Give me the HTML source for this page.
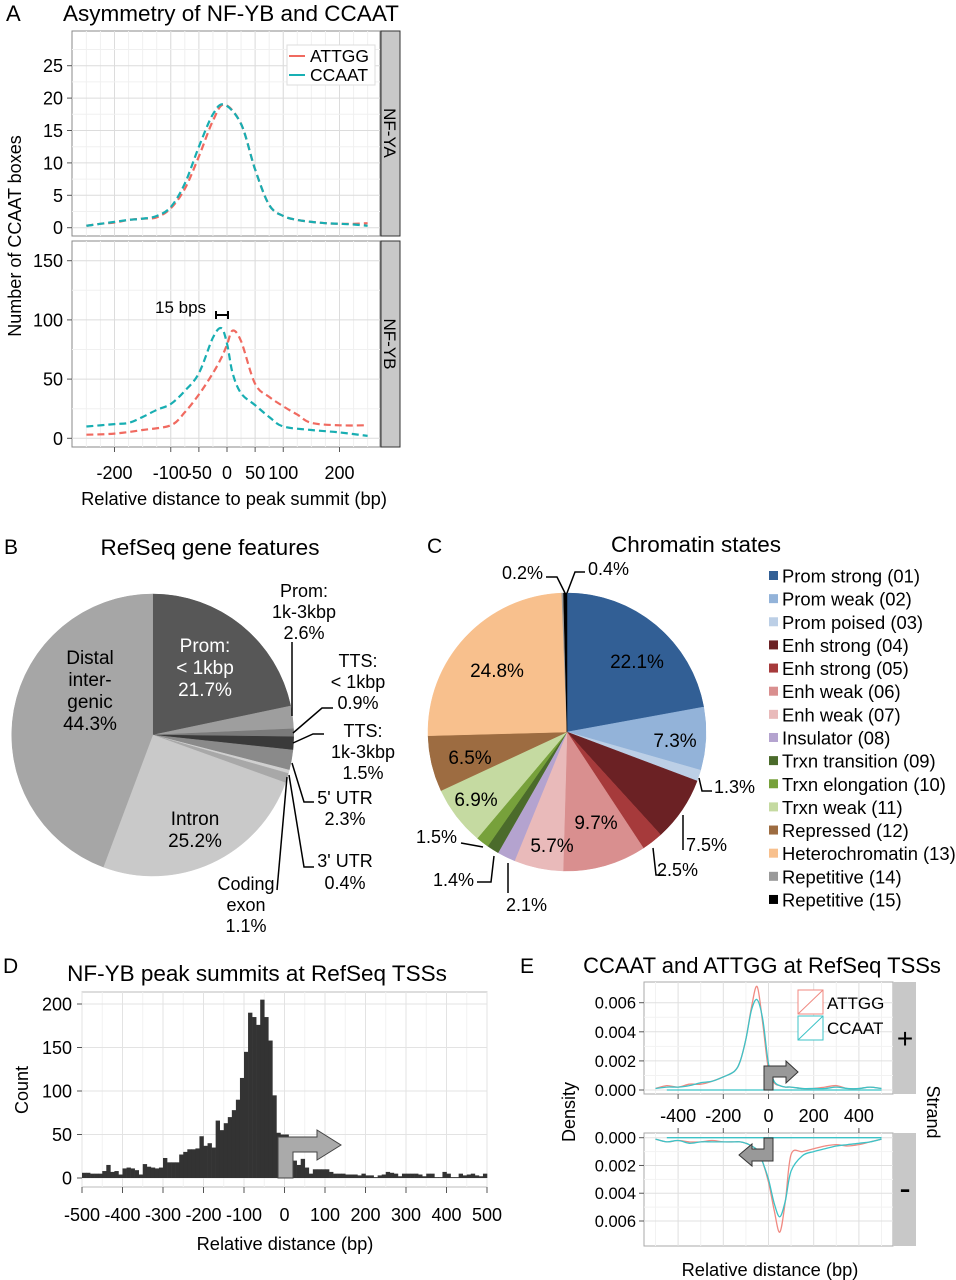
<!DOCTYPE html>
<html><head><meta charset="utf-8">
<style>
html,body{margin:0;padding:0;background:#fff;}
svg{display:block;font-family:"Liberation Sans",Arial,sans-serif;}
</style></head>
<body>
<svg id="fig" width="956" height="1280" viewBox="0 0 956 1280" xmlns="http://www.w3.org/2000/svg">
<rect x="0" y="0" width="956" height="1280" fill="#fff"/>
<g>
<text x="6" y="21" font-size="22">A</text>
<text x="63" y="21" font-size="22.5">Asymmetry of NF-YB and CCAAT</text>
<text transform="translate(21,236) rotate(-90)" text-anchor="middle" font-size="18">Number of CCAAT boxes</text>
<text x="234" y="505" text-anchor="middle" font-size="18.3">Relative distance to peak summit (bp)</text>
<g id="aTop"></g>
<g id="aBot"></g>
<rect x="381" y="31" width="19" height="205" fill="#c8c8c8" stroke="#333" stroke-width="1"/>
<text transform="translate(384,133) rotate(90)" text-anchor="middle" font-size="17">NF-YA</text>
<rect x="381" y="241" width="19" height="206" fill="#c8c8c8" stroke="#333" stroke-width="1"/>
<text transform="translate(384,344) rotate(90)" text-anchor="middle" font-size="17">NF-YB</text>
<rect x="287" y="45" width="88" height="40" fill="#fff" stroke="#ddd"/>
<line x1="289" y1="56" x2="305" y2="56" stroke="#f06a60" stroke-width="2"/>
<text x="310" y="62" font-size="17.5">ATTGG</text>
<line x1="289" y1="75" x2="305" y2="75" stroke="#18b0b4" stroke-width="2"/>
<text x="310" y="81" font-size="17.5">CCAAT</text>
<text x="155" y="313" font-size="17">15 bps</text>
<path d="M216,315 H228 M216,311 V319 M228,311 V319" stroke="#000" stroke-width="2" fill="none"/>
</g>
<g id="pB">
<text x="4" y="554" font-size="21">B</text>
<text x="210" y="555" text-anchor="middle" font-size="22.5">RefSeq gene features</text>
</g>
<g id="pC">
<text x="427" y="553" font-size="21">C</text>
<text x="696" y="552" text-anchor="middle" font-size="22.5">Chromatin states</text>
</g>
<g id="pD">
<text x="3" y="973" font-size="21">D</text>
<text x="257" y="981" text-anchor="middle" font-size="22.5">NF-YB peak summits at RefSeq TSSs</text>
<text transform="translate(28,1090) rotate(-90)" text-anchor="middle" font-size="18">Count</text>
<text x="285" y="1250" text-anchor="middle" font-size="18.3">Relative distance (bp)</text>
</g>
<g id="pE">
<text x="520" y="973" font-size="21">E</text>
<text x="762" y="973" text-anchor="middle" font-size="22">CCAAT and ATTGG at RefSeq TSSs</text>
<text transform="translate(575,1112) rotate(-90)" text-anchor="middle" font-size="18">Density</text>
<text transform="translate(927,1112) rotate(90)" text-anchor="middle" font-size="18">Strand</text>
<text x="770" y="1276" text-anchor="middle" font-size="18.3">Relative distance (bp)</text>
</g>
</svg>
<script>
var NS="http://www.w3.org/2000/svg";
// ---------- Panel A data ----------
var aTopX=[-250,-225,-200,-175,-150,-125,-100,-75,-50,-25,-5,25,50,75,100,125,150,175,200,225,250];
var aTopAttgg=[0.3,0.6,0.8,1.2,1.4,1.6,3,6,11,16.5,19,16,9,3.5,1.8,1.2,0.9,0.7,0.6,0.6,0.7];
var aTopCcaat=[0.3,0.6,0.9,1.2,1.4,1.8,3.2,6.8,12.5,17.5,19,16,9,3.5,1.8,1.2,0.9,0.7,0.6,0.5,0.3];
var aBotAttggX=[-250,-200,-150,-100,-75,-50,-25,-10,0,10,25,50,75,100,125,150,200,250];
var aBotAttgg=[3,4,7,11,22,37,55,68,79,91,82,46,35,27,20,13,11,11];
var aBotCcaatX=[-250,-200,-175,-150,-125,-100,-75,-50,-25,-10,0,10,25,50,75,100,150,200,250];
var aBotCcaat=[10,12,13,18,24,29,40,55,85,93,80,55,38,28,18,10,7,5,2];
var aXTicks=[-200,-100,-50,0,50,100,200];
var aXTickLabels=["-200","-100","-50","0","50","100","200"];
var aTopYTicks=[0,5,10,15,20,25];
var aBotYTicks=[0,50,100,150];
// ---------- Panel B data ----------
var bLabels=["Prom < 1kbp","Prom 1k-3kbp","TTS < 1kbp","TTS 1k-3kbp","5' UTR","3' UTR","Coding exon","Intron","Distal intergenic"];
var bValues=[21.7,2.6,0.9,1.5,2.3,0.4,1.1,25.2,44.3];
var bColors=["#575757","#9e9e9e","#7a7a7a","#3a3a3a","#8a8a8a","#d0d0d0","#a8a8a8","#c9c9c9","#a6a6a6"];
// ---------- Panel C data ----------
var cLabels=["Prom strong (01)","Prom weak (02)","Prom poised (03)","Enh strong (04)","Enh strong (05)","Enh weak (06)","Enh weak (07)","Insulator (08)","Trxn transition (09)","Trxn elongation (10)","Trxn weak (11)","Repressed (12)","Heterochromatin (13)","Repetitive (14)","Repetitive (15)"];
var cValues=[22.1,7.3,1.3,7.5,2.5,9.7,5.7,2.1,1.4,1.5,6.9,6.5,24.8,0.2,0.4];
var cColors=["#325f95","#93b3d9","#bccfe6","#6b2124","#a63a3b","#d98f8f","#e9baba","#b4a3cf","#4b6b2b","#77a13b","#c5daa1","#9d6c41","#f8c08d","#9a9a9a","#000000"];
// ---------- Panel D data ----------
var dBinStart=-500, dBinWidth=10;
var dCounts=[6,6,5,5,5,8,15,7,8,4,
11,12,11,9,4,16,13,12,11,12,
23,18,18,18,27,30,33,33,34,48,
37,40,35,66,55,63,70,78,90,115,
145,190,185,176,205,185,158,95,52,50,
50,30,20,15,22,12,5,10,10,10,
10,7,5,5,5,4,4,4,3,5,
3,3,1,3,4,7,6,5,2,5,
5,5,5,4,2,5,5,1,1,7,
5,1,1,5,3,4,5,3,2,5];
var dXTicks=[-500,-400,-300,-200,-100,0,100,200,300,400,500];
var dYTicks=[0,50,100,150,200];
// ---------- Panel E data ----------
var eX=[-500,-450,-400,-350,-300,-250,-200,-150,-125,-100,-75,-50,-25,0,25,50,75,100,150,200,250,300,350,400,450,500];
var ePlusAttgg=[0.0001,0.0003,0.0002,0.0004,0.0004,0.0006,0.0009,0.0013,0.002,0.0035,0.0057,0.0071,0.0045,0.0014,0.0005,0.0003,0.0002,0.0002,0.0001,0.0001,0.0002,0.0003,0.0001,0.0001,0.0002,0.0001];
var ePlusCcaat=[0.0001,0.0002,0.0002,0.0003,0.0005,0.0006,0.0009,0.0013,0.002,0.0035,0.0055,0.0062,0.0048,0.0018,0.0006,0.0003,0.0002,0.0002,0.0001,0.0001,0.0001,0.0002,0.0001,0.0001,0.0002,0.0001];
var eMinusAttgg=[0.0001,0.0003,0.0002,0.0003,0.0003,0.0002,0.0003,0.0003,0.0003,0.0004,0.0006,0.0009,0.0018,0.0032,0.0052,0.0068,0.0045,0.0012,0.0010,0.0008,0.0006,0.0005,0.0006,0.0005,0.0003,0.0001];
var eMinusCcaat=[0.0001,0.0003,0.0002,0.0004,0.0003,0.0003,0.0003,0.0003,0.0003,0.0004,0.0006,0.0009,0.0018,0.0030,0.0047,0.0057,0.0045,0.0024,0.0013,0.0010,0.0008,0.0006,0.0005,0.0004,0.0003,0.0001];
var eXTicks=[-400,-200,0,200,400];
var eYTicks=[0,0.002,0.004,0.006];

var svg=document.getElementById('fig');
function mk(tag,attrs,parent){var e=document.createElementNS(NS,tag);for(var k in attrs)e.setAttribute(k,attrs[k]);(parent||svg).appendChild(e);return e;}
function smooth(pts){
  var d="M"+pts[0][0].toFixed(1)+","+pts[0][1].toFixed(1);
  for(var i=0;i<pts.length-1;i++){
    var p0=pts[i-1]||pts[i],p1=pts[i],p2=pts[i+1],p3=pts[i+2]||p2;
    var c1x=p1[0]+(p2[0]-p0[0])/6,c1y=p1[1]+(p2[1]-p0[1])/6,c2x=p2[0]-(p3[0]-p1[0])/6,c2y=p2[1]-(p3[1]-p1[1])/6;
    d+=" C"+c1x.toFixed(1)+","+c1y.toFixed(1)+" "+c2x.toFixed(1)+","+c2y.toFixed(1)+" "+p2[0].toFixed(1)+","+p2[1].toFixed(1);
  }
  return d;
}

// ===== Panel A =====
function aX(v){return 227+v*0.5625;}
function aTopY(v){return 227.7-v*6.48;}
function aBotY(v){return 438.3-v*1.184;}
function drawAPanel(g,y0,y1,yfn,ticks,minorStep,series){
  var r=mk('rect',{x:72,y:y0,width:308,height:y1-y0,fill:'#fff',stroke:'#888','stroke-width':1},g);
  
  
  for(var v=-250;v<=250;v+=25){
    var ln=mk('line',{x1:aX(v),x2:aX(v),y1:y0,y2:y1,stroke:'#f0f0f0','stroke-width':1},g);
    
    
  }
  aXTicks.forEach(function(t){
    var ln=mk('line',{x1:aX(t),x2:aX(t),y1:y0,y2:y1,stroke:'#dcdcdc','stroke-width':1},g);
    
    
  });
  ticks.forEach(function(t,i){
    var y=yfn(t);
    var ln=mk('line',{x1:72,x2:380,y1:y,y2:y,stroke:'#dcdcdc','stroke-width':1},g);
    
    
    var m=yfn(t+minorStep);
    if(m>y0){var ml=mk('line',{x1:72,x2:380,y1:m,y2:m,stroke:'#f0f0f0','stroke-width':1},g);
      
      }
    var tk=mk('line',{x1:67,x2:72,y1:y,y2:y,stroke:'#555','stroke-width':1},g);
    
    
    var tx=mk('text',{x:63,y:y+6.5,'text-anchor':'end','font-size':18},g);
    tx.textContent=t;
    
    
  });
  series.forEach(function(s){
    var pts=s.x.map(function(xv,i){return [aX(xv),yfn(s.y[i])];});
    var p=mk('path',{d:smooth(pts),fill:'none',stroke:s.c,'stroke-width':2.2,'stroke-dasharray':'7,4'},g);
    
    
  });
}
drawAPanel(document.getElementById('aTop'),31,236,aTopY,aTopYTicks,2.5,[
  {x:aTopX,y:aTopAttgg,c:'#f06a60',n:'nf-ya-attgg-line'},
  {x:aTopX,y:aTopCcaat,c:'#18aeb2',n:'nf-ya-ccaat-line'}]);
drawAPanel(document.getElementById('aBot'),241,447,aBotY,aBotYTicks,25,[
  {x:aBotAttggX,y:aBotAttgg,c:'#f06a60',n:'nf-yb-attgg-line'},
  {x:aBotCcaatX,y:aBotCcaat,c:'#18aeb2',n:'nf-yb-ccaat-line'}]);
aXTicks.forEach(function(t,i){
  var tk=mk('line',{x1:aX(t),x2:aX(t),y1:447,y2:452,stroke:'#555'});
  
  
  var tx=mk('text',{x:aX(t),y:479,'text-anchor':'middle','font-size':18});
  tx.textContent=aXTickLabels[i];
  
  
});

// ===== Pie helper =====
function pie(parent,cx,cy,r,vals,cols,prefix){
  var tot=vals.reduce(function(a,b){return a+b;},0),a=-Math.PI/2;
  vals.forEach(function(v,i){
    var a2=a+v/tot*2*Math.PI;
    var x1=cx+r*Math.cos(a),y1=cy+r*Math.sin(a),x2=cx+r*Math.cos(a2),y2=cy+r*Math.sin(a2);
    var p=mk('path',{d:"M"+cx+","+cy+" L"+x1.toFixed(2)+","+y1.toFixed(2)+" A"+r+","+r+" 0 "+((a2-a)>Math.PI?1:0)+" 1 "+x2.toFixed(2)+","+y2.toFixed(2)+" Z",fill:cols[i],stroke:cols[i],'stroke-width':0.5},parent);
    
    
    a=a2;
  });
}
function txt(parent,x,y,s,fs,anchor,fill,name){
  var t=mk('text',{x:x,y:y,'font-size':fs,'text-anchor':anchor||'middle',fill:fill||'#000'},parent);
  t.textContent=s;
  
  
  return t;
}
function leader(parent,d,name){
  var p=mk('path',{d:d,fill:'none',stroke:'#000','stroke-width':1.5},parent);
  
  
}

// ===== Panel B =====
var pB=document.getElementById('pB');
pie(pB,152.7,735,141,bValues,bColors,'b');
var FB=19, FL=18;
txt(pB,205,652,"Prom:",FB,'middle','#fff','b-label-prom1');
txt(pB,205,674,"< 1kbp",FB,'middle','#fff','b-label-prom1');
txt(pB,205,696,"21.7%",FB,'middle','#fff','b-label-prom1');
txt(pB,90,664,"Distal",FB,'middle','#000','b-label-distal');
txt(pB,90,686,"inter-",FB,'middle','#000','b-label-distal');
txt(pB,90,708,"genic",FB,'middle','#000','b-label-distal');
txt(pB,90,730,"44.3%",FB,'middle','#000','b-label-distal');
txt(pB,195,825,"Intron",FB,'middle','#000','b-label-intron');
txt(pB,195,847,"25.2%",FB,'middle','#000','b-label-intron');
txt(pB,304,597,"Prom:",FL,'middle','#000','b-label-prom13');
txt(pB,304,618,"1k-3kbp",FL,'middle','#000','b-label-prom13');
txt(pB,304,639,"2.6%",FL,'middle','#000','b-label-prom13');
txt(pB,358,667,"TTS:",FL,'middle','#000','b-label-tts1');
txt(pB,358,688,"< 1kbp",FL,'middle','#000','b-label-tts1');
txt(pB,358,709,"0.9%",FL,'middle','#000','b-label-tts1');
txt(pB,363,737,"TTS:",FL,'middle','#000','b-label-tts13');
txt(pB,363,758,"1k-3kbp",FL,'middle','#000','b-label-tts13');
txt(pB,363,779,"1.5%",FL,'middle','#000','b-label-tts13');
txt(pB,345,804,"5' UTR",FL,'middle','#000','b-label-5utr');
txt(pB,345,825,"2.3%",FL,'middle','#000','b-label-5utr');
txt(pB,345,867,"3' UTR",FL,'middle','#000','b-label-3utr');
txt(pB,345,889,"0.4%",FL,'middle','#000','b-label-3utr');
txt(pB,246,890,"Coding",FL,'middle','#000','b-label-coding');
txt(pB,246,911,"exon",FL,'middle','#000','b-label-coding');
txt(pB,246,932,"1.1%",FL,'middle','#000','b-label-coding');
leader(pB,"M292,642 V716",'b-leader-prom13');
leader(pB,"M293,733 L322,708 H333",'b-leader-tts1');
leader(pB,"M293,743 L313,734 H324",'b-leader-tts13');
leader(pB,"M292,763 L304,802 H314",'b-leader-5utr');
leader(pB,"M289,775 L304,867 H314",'b-leader-3utr');
leader(pB,"M287,777 L277,890",'b-leader-coding');

// ===== Panel C =====
var pC=document.getElementById('pC');
pie(pC,567,732,139,cValues,cColors,'c');
txt(pC,637,668,"22.1%",FB,'middle','#000','c-label-01');
txt(pC,675,747,"7.3%",FB,'middle','#000','c-label-02');
txt(pC,497,677,"24.8%",FB,'middle','#000','c-label-13');
txt(pC,470,764,"6.5%",FB,'middle','#000','c-label-12');
txt(pC,476,806,"6.9%",FB,'middle','#000','c-label-11');
txt(pC,596,829,"9.7%",FB,'middle','#000','c-label-06');
txt(pC,552,852,"5.7%",FB,'middle','#000','c-label-07');
txt(pC,714,793,"1.3%",FL,'start','#000','c-label-03');
txt(pC,686,851,"7.5%",FL,'start','#000','c-label-04');
txt(pC,657,876,"2.5%",FL,'start','#000','c-label-05');
txt(pC,506,911,"2.1%",FL,'start','#000','c-label-08');
txt(pC,474,886,"1.4%",FL,'end','#000','c-label-09');
txt(pC,457,843,"1.5%",FL,'end','#000','c-label-10');
txt(pC,543,579,"0.2%",FL,'end','#000','c-label-14');
txt(pC,588,575,"0.4%",FL,'start','#000','c-label-15');
leader(pC,"M699,778 L702,791 H712",'c-leader-03');
leader(pC,"M683,815 V850",'c-leader-04');
leader(pC,"M653,848 L656,875 H664",'c-leader-05');
leader(pC,"M508,863 V893",'c-leader-08');
leader(pC,"M494,856 L491,882 H477",'c-leader-09');
leader(pC,"M483,847 L461,843",'c-leader-10');
leader(pC,"M546,577 H557 L565,593",'c-leader-14');
leader(pC,"M567,593 L575,572 H585",'c-leader-15');
cLabels.forEach(function(l,i){
  var y=576+i*23.14;
  var r=mk('rect',{x:769,y:y-5,width:9,height:9,fill:cColors[i]},pC);
  
  
  txt(pC,782,y+6.5,l,18.4,'start','#000','c-legend-entry');
});

// ===== Panel D =====
var pD=document.getElementById('pD');
function dX(v){return 82+(v+500)*0.405;}
function dY(c){return 1178-c*0.87;}
var fr=mk('rect',{x:82,y:992,width:405,height:195,fill:'#fff',stroke:'#bbb'},pD);


for(var v=-450;v<500;v+=100){var ml=mk('line',{x1:dX(v),x2:dX(v),y1:992,y2:1187,stroke:'#f2f2f2'},pD);
  
  }
dXTicks.forEach(function(t){
  var l=mk('line',{x1:dX(t),x2:dX(t),y1:992,y2:1187,stroke:'#e3e3e3'},pD);
  
  
  var tk=mk('line',{x1:dX(t),x2:dX(t),y1:1187,y2:1193,stroke:'#555'},pD);
  
  
  txt(pD,dX(t),1221,String(t),18,'middle','#000','d-x-tick-label');
});
dYTicks.forEach(function(t){
  var l=mk('line',{x1:82,x2:487,y1:dY(t),y2:dY(t),stroke:'#e3e3e3'},pD);
  
  
  var tk=mk('line',{x1:77,x2:82,y1:dY(t),y2:dY(t),stroke:'#555'},pD);
  
  
  txt(pD,72,dY(t)+6.5,String(t),18,'end','#000','d-y-tick-label');
});
dCounts.forEach(function(c,i){
  var x0=dX(dBinStart+i*dBinWidth),x1=dX(dBinStart+(i+1)*dBinWidth);
  var b=mk('rect',{x:x0,y:dY(c),width:x1-x0+0.3,height:dY(0)-dY(c),fill:'#333'},pD);
  
  
});
var ar=mk('polygon',{points:"278,1178 293,1178 293,1152 317,1152 317,1160 341,1145 317,1130 317,1137 278,1137",fill:'#aaa',stroke:'#444','stroke-width':1},pD);



// ===== Panel E =====
var pE=document.getElementById('pE');
function eXs(v){return 768.5+v*0.226;}
function eTopY(v){return 1090-v*14550;}
function eBotY(v){return 1137.7+v*13883;}
function ePanel(y0,y1,yfn,attgg,ccaat,nm){
  var r=mk('rect',{x:644,y:y0,width:249,height:y1-y0,fill:'#fff',stroke:'#aaa'},pE);
  
  
  for(var v=-500;v<=500;v+=100){var l=mk('line',{x1:eXs(v),x2:eXs(v),y1:y0,y2:y1,stroke:(v%200===0)?'#e0e0e0':'#f2f2f2'},pE);
    
    }
  for(var k=0;k<=0.0068;k+=0.001){var y=yfn(k);if(y<y0||y>y1)continue;
    var l2=mk('line',{x1:644,x2:893,y1:y,y2:y,stroke:(Math.round(k*1000)%2===0)?'#e0e0e0':'#f2f2f2'},pE);
    
    }
  eYTicks.forEach(function(t){
    var tk=mk('line',{x1:639,x2:644,y1:yfn(t),y2:yfn(t),stroke:'#555'},pE);
    
    
    txt(pE,636,yfn(t)+6,t.toFixed(3),16.5,'end','#000','e-y-tick-label');
  });
  var base=mk('line',{x1:eXs(-450),x2:eXs(500),y1:yfn(0),y2:yfn(0),stroke:'#3cc3c7','stroke-width':1.3},pE);
  
  
  var pa=mk('path',{d:smooth(eX.map(function(x,i){return [eXs(x),yfn(attgg[i])];})),fill:'none',stroke:'#f08a82','stroke-width':1.3},pE);
  
  
  var pc=mk('path',{d:smooth(eX.map(function(x,i){return [eXs(x),yfn(ccaat[i])];})),fill:'none',stroke:'#3cc3c7','stroke-width':1.3},pE);
  
  
}
ePanel(982,1094,eTopY,ePlusAttgg,ePlusCcaat,'plus');
ePanel(1133,1246,eBotY,eMinusAttgg,eMinusCcaat,'minus');
eXTicks.forEach(function(t){
  var a=mk('line',{x1:eXs(t),x2:eXs(t),y1:1094,y2:1099,stroke:'#555'},pE);
  
  
  var b=mk('line',{x1:eXs(t),x2:eXs(t),y1:1128,y2:1133,stroke:'#555'},pE);
  
  
  txt(pE,eXs(t),1122,String(t),18,'middle','#000','e-x-tick-label');
});
var s1=mk('rect',{x:893,y:982,width:23,height:112,fill:'#c8c8c8'},pE);


txt(pE,905,1048,"+",28,'middle','#000','e-strip-plus-label');
var s2=mk('rect',{x:893,y:1133,width:23,height:113,fill:'#c8c8c8'},pE);


txt(pE,905,1200,"-",34,'middle','#000','e-strip-minus-label');
var ea1=mk('polygon',{points:"764,1090 773,1090 773,1077 786,1077 786,1083 798,1072 786,1061 786,1066 764,1066",fill:'#999',stroke:'#333'},pE);


var ea2=mk('polygon',{points:"764,1138 773,1138 773,1161 752,1161 752,1166 739,1155 752,1144 752,1149 764,1149",fill:'#999',stroke:'#333'},pE);


var lg1=mk('rect',{x:798,y:990,width:25,height:24,fill:'#fff',stroke:'#f08a82'},pE);


var lg1d=mk('line',{x1:798,y1:1014,x2:823,y2:990,stroke:'#f08a82'},pE);


txt(pE,827,1009,"ATTGG",17,'start','#000','e-legend-attgg');
var lg2=mk('rect',{x:798,y:1016,width:25,height:24,fill:'#fff',stroke:'#3cc3c7'},pE);


var lg2d=mk('line',{x1:798,y1:1040,x2:823,y2:1016,stroke:'#3cc3c7'},pE);


txt(pE,827,1034,"CCAAT",17,'start','#000','e-legend-ccaat');
</script>
</body></html>
